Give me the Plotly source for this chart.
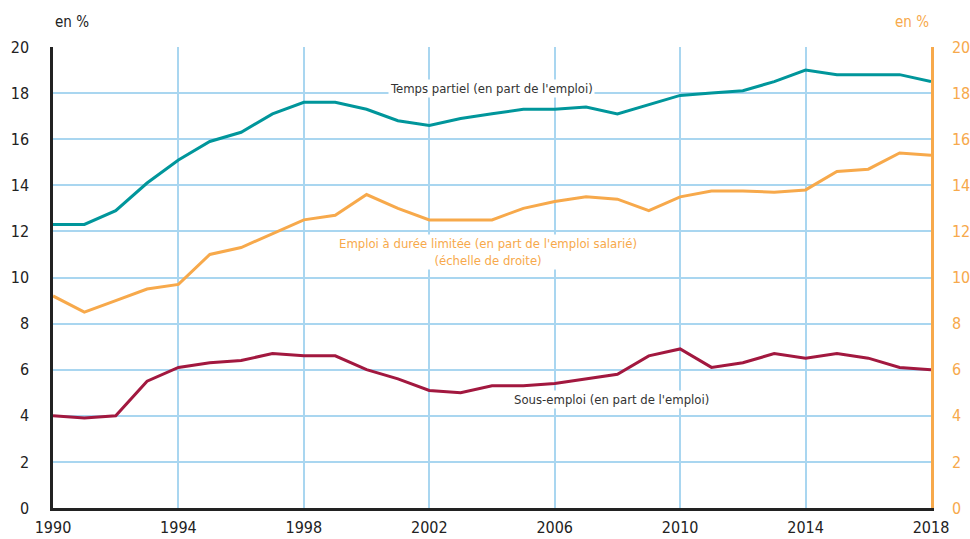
import plotly.graph_objects as go

years = list(range(1990, 2019))
temps_partiel = [12.3, 12.3, 12.9, 14.1, 15.1, 15.9, 16.3, 17.1, 17.6, 17.6,
                 17.3, 16.8, 16.6, 16.9, 17.1, 17.3, 17.3, 17.4, 17.1, 17.5,
                 17.9, 18.0, 18.1, 18.5, 19.0, 18.8, 18.8, 18.8, 18.5]
emploi_duree_limitee = [9.2, 8.5, 9.0, 9.5, 9.7, 11.0, 11.3, 11.9, 12.5, 12.7,
                        13.6, 13.0, 12.5, 12.5, 12.5, 13.0, 13.3, 13.5, 13.4, 12.9,
                        13.5, 13.75, 13.75, 13.7, 13.8, 14.6, 14.7, 15.4, 15.3]
sous_emploi = [4.0, 3.9, 4.0, 5.5, 6.1, 6.3, 6.4, 6.7, 6.6, 6.6,
               6.0, 5.6, 5.1, 5.0, 5.3, 5.3, 5.4, 5.6, 5.8, 6.6,
               6.9, 6.1, 6.3, 6.7, 6.5, 6.7, 6.5, 6.1, 6.0]
x_ticks = [1990, 1994, 1998, 2002, 2006, 2010, 2014, 2018]
y_ticks = list(range(0, 21, 2))

TEAL = "#00969b"
ORANGE = "#f7a94b"
RED = "#a2183f"
GRID = "#a9d6f0"
FONT = "DejaVu Sans Condensed, Liberation Sans Narrow, sans-serif"

fig = go.Figure()
fig.add_trace(go.Scatter(x=years, y=temps_partiel, mode="lines",
                         line=dict(color=TEAL, width=3), name="Temps partiel"))
fig.add_trace(go.Scatter(x=years, y=sous_emploi, mode="lines",
                         line=dict(color=RED, width=3), name="Sous-emploi"))
fig.add_trace(go.Scatter(x=years, y=emploi_duree_limitee, mode="lines",
                         line=dict(color=ORANGE, width=3), name="Emploi à durée limitée",
                         yaxis="y2"))

fig.update_layout(
    width=970, height=539,
    margin=dict(l=53, r=39, t=47, b=31),
    paper_bgcolor="white", plot_bgcolor="white",
    showlegend=False,
    font=dict(family=FONT, size=16, color="#222"),
    xaxis=dict(range=[1990, 2018], tickvals=x_ticks, ticktext=[str(t) for t in x_ticks],
               showgrid=True, gridcolor=GRID, gridwidth=1.5,
               showline=True, linecolor="#222", linewidth=2.5,
               zeroline=False, ticks="", tickfont=dict(size=16, color="#222"),
               ticklabelstandoff=3, automargin=False),
    yaxis=dict(range=[0, 20], tickvals=y_ticks,
               showgrid=True, gridcolor=GRID, gridwidth=1.5,
               showline=True, linecolor="#222", linewidth=2.5,
               zeroline=False, ticks="", tickfont=dict(size=16, color="#222"),
               ticklabelstandoff=18, automargin=False),
    yaxis2=dict(range=[0, 20], tickvals=y_ticks, overlaying="y", side="right",
                showgrid=False, showline=True, linecolor=ORANGE, linewidth=2.5,
                zeroline=False, ticks="", tickfont=dict(size=16, color=ORANGE),
                ticklabelstandoff=15, automargin=False),
    annotations=[
        dict(text="en %", xref="paper", yref="paper", x=0, y=1, xanchor="left",
             yanchor="bottom", yshift=14, showarrow=False,
             font=dict(size=15, color="#222")),
        dict(text="en %", xref="paper", yref="paper", x=1, y=1, xanchor="right",
             yanchor="bottom", yshift=14, showarrow=False,
             font=dict(size=15, color=ORANGE)),
        dict(text="Temps partiel (en part de l'emploi)", x=2003.97, y=18.22,
             xref="x", yref="y", showarrow=False, bgcolor="white",
             font=dict(size=13, color="#333")),
        dict(text="Emploi à durée limitée (en part de l'emploi salarié)<br>(échelle de droite)",
             x=2003.87, y=11.1, xref="x", yref="y", showarrow=False,
             bgcolor="white", font=dict(size=13, color=ORANGE), align="center"),
        dict(text="Sous-emploi (en part de l'emploi)", x=2007.8, y=4.7,
             xref="x", yref="y", showarrow=False, bgcolor="white",
             font=dict(size=13, color="#333")),
    ],
)

fig.write_html(
    "out.html",
    config={"displayModeBar": False},
    post_script="document.body.style.margin='0';document.documentElement.style.overflow='hidden';",
)
